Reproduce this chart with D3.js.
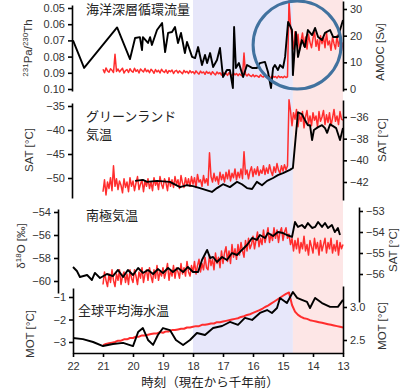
<!DOCTYPE html>
<html lang="ja">
<head>
<meta charset="utf-8">
<title>AMOC deglaciation</title>
<script src="https://d3js.org/d3.v7.min.js"></script>
<style>
body { margin: 0; background: #fff; }
svg { display: block; font-family: "Liberation Sans", Arial, sans-serif; }
.tick text { font-size: 11px; fill: #333; }
.domain, .tick line { stroke: #000; stroke-width: 1.6; }
.jp { font-family: "Noto Sans CJK JP", sans-serif; font-size: 13px; fill: #222; }
.ylab { font-size: 11.5px; fill: #333; }
</style>
</head>
<body>
<div id="chart"></div>
<script>
var w = 408, h = 391;

// model output time axis (kyr BP), noisy red curves
var modelAge = [21.00, 20.95, 20.90, 20.85, 20.80, 20.75, 20.70, 20.65, 20.60, 20.55,
  20.50, 20.45, 20.40, 20.35, 20.30, 20.25, 20.20, 20.15, 20.10, 20.05,
  20.00, 19.95, 19.90, 19.85, 19.80, 19.75, 19.70, 19.65, 19.60, 19.55,
  19.50, 19.45, 19.40, 19.35, 19.30, 19.25, 19.20, 19.15, 19.10, 19.05,
  19.00, 18.95, 18.90, 18.85, 18.80, 18.75, 18.70, 18.65, 18.60, 18.55,
  18.50, 18.45, 18.40, 18.35, 18.30, 18.25, 18.20, 18.15, 18.10, 18.05,
  18.00, 17.95, 17.90, 17.85, 17.80, 17.75, 17.70, 17.65, 17.60, 17.55,
  17.50, 17.45, 17.40, 17.35, 17.30, 17.25, 17.20, 17.15, 17.10, 17.05,
  17.00, 16.95, 16.90, 16.85, 16.80, 16.75, 16.70, 16.65, 16.60, 16.55,
  16.50, 16.45, 16.40, 16.35, 16.30, 16.25, 16.20, 16.15, 16.10, 16.05,
  16.00, 15.95, 15.90, 15.85, 15.80, 15.75, 15.70, 15.65, 15.60, 15.55,
  15.50, 15.45, 15.40, 15.35, 15.30, 15.25, 15.20, 15.15, 15.10, 15.05,
  15.00, 14.95, 14.90, 14.85, 14.80, 14.75, 14.70, 14.65, 14.60, 14.55,
  14.50, 14.45, 14.40, 14.35, 14.30, 14.25, 14.20, 14.15, 14.10, 14.05,
  14.00, 13.95, 13.90, 13.85, 13.80, 13.75, 13.70, 13.65, 13.60, 13.55,
  13.50, 13.45, 13.40, 13.35, 13.30, 13.25, 13.20, 13.15, 13.10, 13.05,
  13.00];

var amocModel = [7.4, 6.1, 7.9, 6.8, 6.3, 7.6, 7.0, 6.2, 13.0, 6.6,
  7.5, 6.4, 7.1, 7.8, 6.0, 6.9, 7.3, 6.2, 7.6, 6.7,
  6.3, 7.8, 6.6, 7.2, 6.0, 7.5, 6.9, 6.4, 7.7, 6.5,
  7.1, 6.1, 7.4, 6.8, 5.9, 7.3, 6.4, 7.0, 6.0, 7.4,
  6.6, 6.2, 7.2, 5.9, 6.9, 6.5, 7.1, 5.8, 6.7, 7.0,
  6.0, 6.8, 6.3, 5.7, 7.0, 6.2, 6.6, 5.8, 6.9, 6.1,
  6.5, 5.7, 6.8, 6.1, 5.6, 6.7, 6.0, 6.4, 5.5, 6.6,
  5.9, 6.3, 5.4, 6.5, 5.8, 5.3, 6.4, 5.7, 6.1, 5.2,
  6.2, 5.5, 5.9, 5.1, 6.1, 5.4, 5.0, 6.0, 5.3, 5.8,
  5.0, 5.7, 5.2, 4.8, 13.5, 5.5, 4.9, 5.6, 5.0, 4.7,
  5.4, 4.6, 5.1, 4.8, 4.4, 5.3, 4.7, 4.5, 5.2, 4.3,
  4.9, 4.5, 4.2, 5.0, 4.4, 4.7, 4.1, 4.9, 4.3, 4.6,
  4.2, 4.8, 4.3, 4.6, 33.0, 24.0, 19.5, 15.0, 21.5, 17.0,
  20.5, 14.5, 18.0, 21.0, 16.0, 19.5, 15.0, 20.5, 17.5, 15.5,
  19.0, 21.5, 16.0, 18.5, 14.5, 20.0, 17.0, 19.5, 15.5, 21.0,
  16.5, 18.0, 14.5, 19.5, 17.0, 15.0, 20.0, 16.0, 18.5, 14.5,
  17.5];

var greenlandModel = [-42.9, -41.8, -43.2, -42.0, -42.6, -41.6, -42.8, -40.5, -42.4, -41.7,
  -42.7, -41.9, -42.3, -43.0, -41.7, -42.5, -42.0, -42.9, -41.6, -42.4,
  -41.9, -42.8, -42.1, -41.5, -42.7, -42.2, -41.8, -42.9, -41.9, -42.4,
  -41.7, -42.6, -42.0, -42.8, -41.6, -42.3, -41.9, -42.7, -41.5, -42.2,
  -42.6, -41.7, -42.1, -42.8, -41.6, -42.4, -41.8, -42.5, -41.5, -42.2,
  -41.8, -42.6, -41.4, -42.1, -42.5, -41.6, -42.3, -41.7, -42.4, -41.5,
  -42.2, -41.6, -42.5, -41.3, -42.0, -41.8, -42.4, -41.4, -42.1, -41.7,
  -42.3, -39.3, -41.5, -42.0, -41.2, -41.9, -41.5, -42.2, -41.1, -41.8,
  -41.3, -42.0, -41.1, -41.7, -40.9, -41.9, -41.2, -41.6, -40.8, -41.8,
  -41.1, -41.6, -40.8, -41.7, -39.2, -41.3, -40.9, -41.7, -41.0, -40.6,
  -41.5, -40.8, -41.3, -40.6, -41.4, -40.9, -41.2, -40.5, -41.3, -40.7,
  -41.2, -40.4, -41.0, -41.4, -40.6, -41.1, -40.3, -40.9, -41.2, -40.5,
  -41.0, -40.4, -40.9, -40.5, -34.4, -35.4, -36.8, -35.6, -36.2, -35.3,
  -36.9, -35.8, -36.4, -35.5, -37.0, -36.0, -35.4, -36.6, -35.9, -36.8,
  -35.6, -36.3, -35.9, -36.9, -35.5, -36.4, -36.0, -35.4, -36.7, -35.8,
  -36.5, -35.6, -36.8, -36.1, -35.3, -36.4, -35.9, -36.7, -35.5, -36.2,
  -36.3];

var antarcticModel = [-56.5, -55.9, -56.3, -56.6, -56.0, -56.4, -55.8, -56.3, -56.6, -56.0,
  -56.3, -55.8, -56.5, -56.1, -55.9, -56.4, -56.0, -56.5, -55.8, -56.2,
  -56.4, -55.8, -56.1, -56.5, -55.9, -56.2, -55.7, -56.4, -56.0, -55.8,
  -56.3, -55.7, -56.1, -56.4, -55.8, -56.2, -55.6, -56.3, -55.9, -56.1,
  -55.7, -56.2, -55.9, -55.5, -56.3, -55.8, -56.1, -55.6, -56.2, -55.7,
  -55.9, -56.2, -55.5, -56.0, -55.7, -56.1, -55.4, -55.9, -56.1, -55.6,
  -55.9, -55.4, -56.0, -55.6, -55.3, -55.9, -55.5, -55.8, -55.2, -55.7,
  -55.8, -55.1, -55.6, -55.3, -55.8, -55.0, -55.5, -55.2, -55.7, -54.9,
  -55.5, -55.0, -54.7, -55.4, -54.9, -55.5, -54.6, -55.2, -54.8, -55.3,
  -54.6, -55.1, -54.5, -54.9, -55.2, -54.4, -54.9, -54.3, -54.8, -54.6,
  -54.2, -54.8, -54.4, -54.0, -54.7, -54.3, -54.6, -53.9, -54.5, -54.2,
  -53.8, -54.5, -54.1, -54.4, -53.8, -54.3, -53.9, -54.5, -54.0, -53.8,
  -54.4, -54.0, -53.8, -54.3, -54.1, -54.6, -54.3, -54.9, -54.4, -54.8,
  -54.3, -55.0, -54.5, -54.8, -54.2, -54.9, -54.6, -55.1, -54.4, -54.7,
  -55.0, -54.3, -54.8, -54.5, -55.1, -54.4, -54.9, -54.6, -54.3, -55.0,
  -54.5, -54.8, -54.3, -55.0, -54.6, -54.9, -54.4, -55.1, -54.5, -54.8,
  -54.6];

// smoother model ocean temperature (kyr BP, 0.1 kyr)
var motAge = [21.0, 20.9, 20.8, 20.7, 20.6, 20.5, 20.4, 20.3, 20.2, 20.1,
  20.0, 19.9, 19.8, 19.7, 19.6, 19.5, 19.4, 19.3, 19.2, 19.1,
  19.0, 18.9, 18.8, 18.7, 18.6, 18.5, 18.4, 18.3, 18.2, 18.1,
  18.0, 17.9, 17.8, 17.7, 17.6, 17.5, 17.4, 17.3, 17.2, 17.1,
  17.0, 16.9, 16.8, 16.7, 16.6, 16.5, 16.4, 16.3, 16.2, 16.1,
  16.0, 15.9, 15.8, 15.7, 15.6, 15.5, 15.4, 15.3, 15.2, 15.1,
  15.0, 14.9, 14.8, 14.7, 14.6, 14.5, 14.4, 14.3, 14.2, 14.1,
  14.0, 13.9, 13.8, 13.7, 13.6, 13.5, 13.4, 13.3, 13.2, 13.1,
  13.0];
var motModel = [2.42, 2.44, 2.45, 2.46, 2.47, 2.49, 2.49, 2.51, 2.51, 2.53,
  2.53, 2.55, 2.55, 2.57, 2.57, 2.58, 2.59, 2.60, 2.60, 2.62,
  2.61, 2.63, 2.63, 2.65, 2.65, 2.66, 2.67, 2.67, 2.69, 2.69,
  2.70, 2.71, 2.71, 2.73, 2.73, 2.74, 2.75, 2.75, 2.77, 2.77,
  2.78, 2.79, 2.80, 2.81, 2.82, 2.83, 2.85, 2.86, 2.88, 2.89,
  2.91, 2.93, 2.95, 2.97, 3.00, 3.02, 3.05, 3.08, 3.11, 3.14,
  3.17, 3.20, 3.22, 3.03, 2.93, 2.88, 2.85, 2.83, 2.82, 2.80,
  2.79, 2.78, 2.77, 2.76, 2.75, 2.74, 2.73, 2.72, 2.71, 2.70,
  2.69];

// proxy records (black): [kyr BP, value]
var paThProxy = [[22.0,0.070],[21.63,0.087],[20.53,0.062],[20.1,0.0815],[19.93,0.0685],[19.77,0.068],
  [19.7,0.076],[19.67,0.068],[19.5,0.0716],[19.43,0.068],[19.37,0.0728],[19.2,0.0636],[19.03,0.0593],
  [18.93,0.0772],[18.83,0.0654],[18.7,0.0648],[18.6,0.0617],[18.5,0.0716],[18.4,0.0654],[18.27,0.0778],
  [18.2,0.071],[18.03,0.0802],[17.93,0.0809],[17.83,0.0741],[17.7,0.0852],[17.6,0.079],[17.53,0.084],
  [17.43,0.0778],[17.33,0.0864],[17.2,0.0821],[17.1,0.0747],[17.0,0.0926],[16.87,0.0883],[16.77,0.0883],
  [16.67,0.0994],[16.63,0.0617],[16.57,0.087],[16.47,0.084],[16.33,0.0926],[16.2,0.0852],[16.03,0.087],
  [15.87,0.087],[15.77,0.084],[15.6,0.0833],[15.5,0.0895],[15.4,0.0994],[15.33,0.087],[15.27,0.0852],
  [15.17,0.0883],[15.1,0.0852],[15.0,0.087],[14.93,0.0802],[14.83,0.0586],[14.7,0.0636],[14.67,0.0914],
  [14.57,0.0648],[14.5,0.0802],[14.37,0.0698],[14.27,0.0741],[14.17,0.0636],[14.03,0.0667],[13.93,0.0623],
  [13.83,0.0679],[13.7,0.0698],[13.6,0.0654],[13.43,0.0636],[13.33,0.0679],[13.17,0.0679],[13.0,0.0574]];

var greenlandProxy = [[19.93,-50.6],[19.67,-50.4],[19.53,-50.8],[19.2,-50.6],[18.77,-50.8],[18.43,-51.9],
  [18.2,-51.5],[18.0,-51.7],[17.77,-52.1],[17.37,-52.9],[17.2,-52.1],[17.0,-51.3],[16.77,-51.9],
  [16.53,-50.8],[16.37,-51.3],[16.2,-52.1],[16.03,-52.3],[15.87,-50.8],[15.7,-51.5],[15.53,-50.6],
  [15.33,-50.0],[15.17,-49.4],[15.0,-49.0],[14.77,-48.3],[14.67,-47.9],[14.57,-41.0],[14.5,-36.3],
  [14.37,-36.7],[14.27,-37.9],[14.17,-39.0],[14.1,-39.0],[14.03,-42.1],[13.97,-40.0],[13.83,-39.4],
  [13.7,-39.0],[13.6,-39.6],[13.53,-40.6],[13.43,-38.8],[13.33,-39.2],[13.23,-39.6],[13.1,-42.1],[13.0,-39.6]];

var antarcticProxy = [[22.0,-58.78],[21.87,-59.13],[21.77,-59.65],[21.53,-59.48],[21.37,-59.91],[21.27,-59.3],
  [21.1,-59.74],[20.87,-59.39],[20.67,-59.57],[20.5,-59.04],[20.33,-59.65],[20.17,-59.04],[20.0,-59.48],
  [19.83,-58.87],[19.67,-59.3],[19.5,-59.04],[19.33,-59.39],[19.17,-58.96],[19.0,-59.3],[18.83,-58.87],
  [18.67,-59.22],[18.5,-58.87],[18.33,-59.22],[18.17,-58.78],[18.0,-59.22],[17.83,-59.22],[17.7,-58.17],
  [17.53,-57.3],[17.43,-58.0],[17.33,-57.91],[17.2,-58.35],[17.03,-57.91],[16.87,-58.17],[16.7,-57.57],
  [16.53,-57.74],[16.37,-57.3],[16.2,-56.87],[16.03,-56.26],[15.87,-56.43],[15.77,-56.0],[15.6,-56.26],
  [15.5,-55.83],[15.33,-56.09],[15.17,-55.74],[15.0,-55.83],[14.87,-56.0],[14.7,-56.17],[14.6,-54.87],
  [14.5,-55.3],[14.37,-55.13],[14.27,-55.39],[14.17,-54.96],[14.03,-55.39],[13.93,-55.3],[13.83,-54.87],
  [13.7,-55.3],[13.6,-54.96],[13.5,-55.39],[13.37,-55.13],[13.27,-55.74],[13.17,-55.39],[13.1,-56.0]];

var motProxy = [[22.0,-2.82],[21.67,-2.87],[21.33,-3.0],[21.0,-3.18],[20.67,-3.09],[20.33,-3.04],[20.0,-3.18],
  [19.83,-2.56],[19.67,-2.38],[19.5,-2.91],[19.33,-3.13],[19.17,-2.69],[19.0,-2.38],[18.77,-2.47],
  [18.57,-2.91],[18.33,-3.13],[18.1,-2.91],[17.87,-2.6],[17.6,-2.69],[17.33,-2.38],[17.03,-2.29],
  [16.77,-2.11],[16.5,-2.24],[16.27,-1.93],[16.03,-2.02],[15.77,-1.71],[15.53,-1.58],[15.37,-1.71],
  [15.2,-1.49],[15.1,-1.04],[14.87,-1.27],[14.67,-0.78],[14.53,-1.04],[14.37,-1.13],[14.2,-1.22],
  [14.1,-1.49],[13.93,-1.04],[13.7,-1.27],[13.43,-1.44],[13.17,-1.44],[13.0,-1.13]];

// tick labels
var ageTicks = [22, 21, 20, 19, 18, 17, 16, 15, 14, 13];
var paThTicks = [0.05, 0.06, 0.07, 0.08, 0.09, 0.10];
var amocTicks = [0, 10, 20, 30];
var grnLeftTicks = [-35, -40, -45, -50];
var grnRightTicks = [-36, -38, -40, -42];
var antLeftTicks = [-54, -56, -58, -60];
var antRightTicks = [-53, -54, -55, -56];
var motLeftTicks = [-1, -2, -3];
var motRightTicks = [3.0, 2.5];

// periods: HS1 (blue), Bolling-Allerod (pink)
var hs1Span = [18, 14.67];
var baSpan = [14.67, 13];

var svg = d3.select("#chart").append("svg").attr("width", w).attr("height", h);

var x = d3.scaleLinear().domain([22, 13]).range([73, 343]);

// linear scale through two tick positions, stretched to the axis line ends
function lin(v0, v1, p0, p1, top, bot) {
  var s = d3.scaleLinear().domain([v0, v1]).range([p0, p1]);
  return d3.scaleLinear().domain([s.invert(top), s.invert(bot)]).range([top, bot]);
}

var yPa = lin(0.05, 0.10, 8, 89, 5, 91);
var yAmoc = lin(30, 0, 9, 89, 1, 91);
var yGrnL = lin(-35, -50, 106, 178, 103, 198);
var yGrnR = lin(-36, -42, 117, 182, 100, 200);
var yAntL = lin(-54, -60, 212, 281, 209, 293);
var yAntR = lin(-53, -56, 211, 274, 207, 302);
var yMotL = lin(-1, -3, 297, 342, 288, 353);
var yMotR = lin(3.0, 2.5, 307, 340, 286, 353);

// shading
svg.append("rect").attr("x", x(hs1Span[0])).attr("y", 0)
  .attr("width", x(hs1Span[1]) - x(hs1Span[0])).attr("height", 353).attr("fill", "#e7e7fa");
svg.append("rect").attr("x", x(baSpan[0])).attr("y", 0)
  .attr("width", x(baSpan[1]) - x(baSpan[0])).attr("height", 353).attr("fill", "#fde6e6");

function modelLine(ages, vals, y, sw) {
  svg.append("path")
    .datum(ages.map(function(a, i) { return [a, vals[i]]; }))
    .attr("fill", "none").attr("stroke", "#ff2d2d").attr("stroke-width", sw)
    .attr("stroke-linejoin", "round")
    .attr("d", d3.line().x(function(d) { return x(d[0]); }).y(function(d) { return y(d[1]); }));
}
function proxyLine(data, y) {
  svg.append("path")
    .datum(data)
    .attr("fill", "none").attr("stroke", "#000").attr("stroke-width", 1.9)
    .attr("stroke-linejoin", "round")
    .attr("d", d3.line().x(function(d) { return x(d[0]); }).y(function(d) { return y(d[1]); }));
}

modelLine(modelAge, amocModel, yAmoc, 1.5);
proxyLine(paThProxy, yPa);
modelLine(modelAge, greenlandModel, yGrnR, 1.5);
proxyLine(greenlandProxy, yGrnL);
modelLine(modelAge, antarcticModel, yAntR, 1.5);
proxyLine(antarcticProxy, yAntL);
modelLine(motAge, motModel, yMotR, 2);
proxyLine(motProxy, yMotL);

// axes
function axis(gen, xpos, ticks, fmt) {
  var a = gen.tickValues(ticks).tickSize(4).tickSizeOuter(0).tickPadding(3);
  if (fmt) a.tickFormat(d3.format(fmt));
  else a.tickFormat(function(d) { return String(d).replace("-", "\u2212"); });
  svg.append("g").attr("transform", "translate(" + xpos + ",0)").call(a);
}
axis(d3.axisLeft(yPa), 72, paThTicks, ".2f");
axis(d3.axisRight(yAmoc), 343, amocTicks);
axis(d3.axisLeft(yGrnL), 72, grnLeftTicks);
axis(d3.axisRight(yGrnR), 343, grnRightTicks);
axis(d3.axisLeft(yAntL), 58, antLeftTicks);
axis(d3.axisRight(yAntR), 359, antRightTicks);
axis(d3.axisLeft(yMotL), 73, motLeftTicks);
axis(d3.axisRight(yMotR), 343, motRightTicks, ".1f");

svg.append("g").attr("transform", "translate(0,353)")
  .call(d3.axisBottom(x).tickValues(ageTicks).tickSize(4).tickSizeOuter(0).tickPadding(5));

// axis titles
function ylab(xp, yp, parts) {
  var t = svg.append("text").attr("class", "ylab")
    .attr("transform", "translate(" + xp + "," + yp + ") rotate(-90)")
    .attr("text-anchor", "middle");
  parts.forEach(function(p) {
    var s = t.append("tspan").text(p[0]);
    if (p[1]) s.attr("font-size", 8).attr("dy", -4);
    else if (p[2]) s.attr("dy", 4);
  });
}
ylab(32, 48, [["231", true], ["Pa/", false, true], ["230", true], ["Th", false, true]]);
ylab(384, 52, [["AMOC [Sv]"]]);
ylab(33, 150, [["SAT [\u00b0C]"]]);
ylab(386, 140, [["SAT [\u00b0C]"]]);
ylab(25, 246, [["\u03b4"], ["18", true], ["O [\u2030]", false, true]]);
ylab(397, 250, [["SAT [\u00b0C]"]]);
ylab(34, 334, [["MOT [\u00b0C]"]]);
ylab(386, 326, [["MOT [\u00b0C]"]]);

// panel titles
svg.append("text").attr("class", "jp").attr("x", 86).attr("y", 14).text("海洋深層循環流量");
svg.append("text").attr("class", "jp").attr("x", 86).attr("y", 121).text("グリーンランド");
svg.append("text").attr("class", "jp").attr("x", 86).attr("y", 139).text("気温");
svg.append("text").attr("class", "jp").attr("x", 86).attr("y", 220).text("南極気温");
svg.append("text").attr("class", "jp").attr("x", 78).attr("y", 315).text("全球平均海水温");
svg.append("text").attr("class", "jp").attr("x", 210).attr("y", 387)
  .attr("text-anchor", "middle").style("font-size", "12.5px").text("時刻（現在から千年前）");

// highlight of the abrupt AMOC recovery
svg.append("circle").attr("cx", x(14.53)).attr("cy", yAmoc(16.5)).attr("r", 44)
  .attr("fill", "none").attr("stroke", "#41729f").attr("stroke-width", 3);
</script>
</body>
</html>
